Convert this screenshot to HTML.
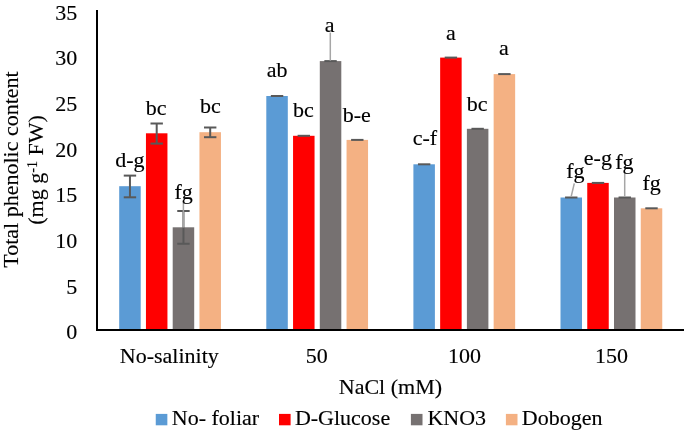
<!DOCTYPE html><html><head><meta charset="utf-8"><style>
html,body{margin:0;padding:0;background:#fff;}
body{width:685px;height:432px;overflow:hidden;}
svg{display:block;will-change:transform;}
text{font-family:"Liberation Serif",serif;font-size:22px;fill:#000;stroke:#000;stroke-width:0.15px;}
</style></head><body>
<svg width="685" height="432" viewBox="0 0 685 432">
<rect x="0" y="0" width="685" height="432" fill="#fff"/>
<rect x="119.20" y="186.20" width="21.50" height="143.30" fill="#5B9BD5"/>
<rect x="145.95" y="133.30" width="21.50" height="196.20" fill="#FF0000"/>
<rect x="172.70" y="227.30" width="21.50" height="102.20" fill="#767171"/>
<rect x="199.45" y="132.20" width="21.50" height="197.30" fill="#F4B183"/>
<rect x="266.30" y="96.00" width="21.50" height="233.50" fill="#5B9BD5"/>
<rect x="293.05" y="135.80" width="21.50" height="193.70" fill="#FF0000"/>
<rect x="319.80" y="61.10" width="21.50" height="268.40" fill="#767171"/>
<rect x="346.55" y="139.90" width="21.50" height="189.60" fill="#F4B183"/>
<rect x="413.40" y="164.30" width="21.50" height="165.20" fill="#5B9BD5"/>
<rect x="440.15" y="57.60" width="21.50" height="271.90" fill="#FF0000"/>
<rect x="466.90" y="128.80" width="21.50" height="200.70" fill="#767171"/>
<rect x="493.65" y="74.10" width="21.50" height="255.40" fill="#F4B183"/>
<rect x="560.50" y="197.50" width="21.50" height="132.00" fill="#5B9BD5"/>
<rect x="587.25" y="182.90" width="21.50" height="146.60" fill="#FF0000"/>
<rect x="614.00" y="197.50" width="21.50" height="132.00" fill="#767171"/>
<rect x="640.75" y="208.30" width="21.50" height="121.20" fill="#F4B183"/>
<line x1="129.95" y1="175.60" x2="129.95" y2="197.30" stroke="#595959" stroke-width="2"/>
<line x1="123.75" y1="175.60" x2="136.15" y2="175.60" stroke="#595959" stroke-width="2"/>
<line x1="123.75" y1="197.30" x2="136.15" y2="197.30" stroke="#595959" stroke-width="2"/>
<line x1="156.70" y1="123.50" x2="156.70" y2="143.60" stroke="#595959" stroke-width="2"/>
<line x1="150.50" y1="123.50" x2="162.90" y2="123.50" stroke="#595959" stroke-width="2"/>
<line x1="150.50" y1="143.60" x2="162.90" y2="143.60" stroke="#595959" stroke-width="2"/>
<line x1="183.45" y1="211.00" x2="183.45" y2="243.75" stroke="#595959" stroke-width="2"/>
<line x1="177.25" y1="211.00" x2="189.65" y2="211.00" stroke="#595959" stroke-width="2"/>
<line x1="177.25" y1="243.75" x2="189.65" y2="243.75" stroke="#595959" stroke-width="2"/>
<line x1="210.20" y1="127.50" x2="210.20" y2="137.20" stroke="#595959" stroke-width="2"/>
<line x1="204.00" y1="127.50" x2="216.40" y2="127.50" stroke="#595959" stroke-width="2"/>
<line x1="204.00" y1="137.20" x2="216.40" y2="137.20" stroke="#595959" stroke-width="2"/>
<line x1="270.85" y1="96.00" x2="283.25" y2="96.00" stroke="#595959" stroke-width="2"/>
<line x1="297.60" y1="135.80" x2="310.00" y2="135.80" stroke="#595959" stroke-width="2"/>
<line x1="324.35" y1="61.10" x2="336.75" y2="61.10" stroke="#595959" stroke-width="2"/>
<line x1="351.10" y1="139.90" x2="363.50" y2="139.90" stroke="#595959" stroke-width="2"/>
<line x1="417.95" y1="164.30" x2="430.35" y2="164.30" stroke="#595959" stroke-width="2"/>
<line x1="444.70" y1="57.60" x2="457.10" y2="57.60" stroke="#595959" stroke-width="2"/>
<line x1="471.45" y1="128.80" x2="483.85" y2="128.80" stroke="#595959" stroke-width="2"/>
<line x1="498.20" y1="74.10" x2="510.60" y2="74.10" stroke="#595959" stroke-width="2"/>
<line x1="565.05" y1="197.50" x2="577.45" y2="197.50" stroke="#595959" stroke-width="2"/>
<line x1="591.80" y1="182.90" x2="604.20" y2="182.90" stroke="#595959" stroke-width="2"/>
<line x1="618.55" y1="197.50" x2="630.95" y2="197.50" stroke="#595959" stroke-width="2"/>
<line x1="645.30" y1="208.30" x2="657.70" y2="208.30" stroke="#595959" stroke-width="2"/>
<line x1="183.40" y1="202.70" x2="183.40" y2="227.50" stroke="#A6A6A6" stroke-width="1.5"/>
<line x1="330.30" y1="32.60" x2="330.30" y2="60.70" stroke="#A6A6A6" stroke-width="1.5"/>
<line x1="574.30" y1="183.40" x2="571.10" y2="196.90" stroke="#A6A6A6" stroke-width="1.5"/>
<line x1="624.70" y1="173.30" x2="624.70" y2="196.90" stroke="#A6A6A6" stroke-width="1.5"/>
<line x1="97" y1="10" x2="97" y2="331" stroke="#000" stroke-width="2"/>
<line x1="96" y1="330" x2="684" y2="330" stroke="#000" stroke-width="2"/>
<text x="77.3" y="339.40" text-anchor="end">0</text>
<text x="77.3" y="293.73" text-anchor="end">5</text>
<text x="77.3" y="248.06" text-anchor="end">10</text>
<text x="77.3" y="202.39" text-anchor="end">15</text>
<text x="77.3" y="156.72" text-anchor="end">20</text>
<text x="77.3" y="111.05" text-anchor="end">25</text>
<text x="77.3" y="65.38" text-anchor="end">30</text>
<text x="77.3" y="19.71" text-anchor="end">35</text>
<text x="129.80" y="167.25" text-anchor="middle">d-g</text>
<text x="156.10" y="114.60" text-anchor="middle">bc</text>
<text x="183.60" y="198.65" text-anchor="middle">fg</text>
<text x="210.30" y="113.40" text-anchor="middle">bc</text>
<text x="277.05" y="76.70" text-anchor="middle">ab</text>
<text x="303.30" y="117.00" text-anchor="middle">bc</text>
<text x="329.65" y="32.45" text-anchor="middle">a</text>
<text x="356.80" y="121.70" text-anchor="middle">b-e</text>
<text x="425.00" y="145.30" text-anchor="middle">c-f</text>
<text x="450.80" y="39.70" text-anchor="middle">a</text>
<text x="477.15" y="110.60" text-anchor="middle">bc</text>
<text x="503.90" y="55.25" text-anchor="middle">a</text>
<text x="575.35" y="178.30" text-anchor="middle">fg</text>
<text x="597.85" y="165.10" text-anchor="middle">e-g</text>
<text x="624.45" y="169.45" text-anchor="middle">fg</text>
<text x="651.65" y="190.10" text-anchor="middle">fg</text>
<text x="169.30" y="363" text-anchor="middle">No-salinity</text>
<text x="316.70" y="363" text-anchor="middle">50</text>
<text x="464.50" y="363" text-anchor="middle">100</text>
<text x="611.40" y="363" text-anchor="middle">150</text>
<text x="390.4" y="394.4" text-anchor="middle">NaCl (mM)</text>
<text transform="translate(17.8,169.5) rotate(-90)" text-anchor="middle">Total phenolic content</text>
<text transform="translate(43,170) rotate(-90)" text-anchor="middle">(mg g<tspan dy="-6.3" font-size="14">-1</tspan><tspan dy="6.3"> FW)</tspan></text>
<rect x="155.75" y="413.9" width="11.6" height="11.4" fill="#5B9BD5"/>
<text x="171.80" y="425.4">No- foliar</text>
<rect x="279.00" y="413.9" width="11.6" height="11.4" fill="#FF0000"/>
<text x="294.90" y="425.4">D-Glucose</text>
<rect x="410.90" y="413.9" width="11.6" height="11.4" fill="#767171"/>
<text x="427.40" y="425.4">KNO3</text>
<rect x="505.90" y="413.9" width="11.6" height="11.4" fill="#F4B183"/>
<text x="521.80" y="425.4">Dobogen</text>
</svg></body></html>
